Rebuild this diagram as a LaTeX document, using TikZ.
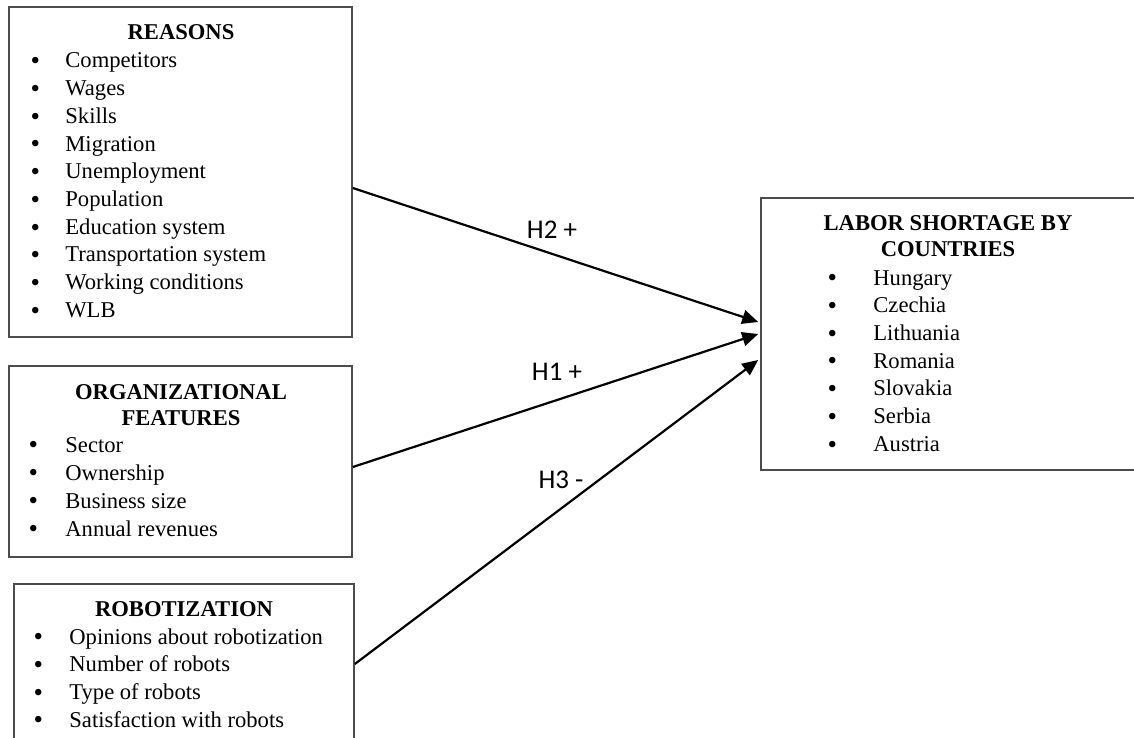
\documentclass[tikz,border=0pt]{standalone}
\usepackage{fontspec}
\setmainfont{Liberation Serif}
\newfontfamily\hypfont{Carlito}
\usetikzlibrary{arrows.meta, calc}

\tikzset{
    box/.style={draw=black!70, line width=0.8pt, inner sep=0pt},
    title/.style={anchor=base, inner sep=0pt, font=\fontsize{11.3}{13.8}\selectfont\bfseries},
    item/.style={anchor=base west, inner sep=0pt, font=\fontsize{11.3}{13.8}\selectfont},
    hyp/.style={inner sep=0pt, font=\hypfont\fontsize{13.5}{16}\selectfont},
    arr/.style={line width=1.1pt, -{Triangle[length=8pt,width=7pt]}}
}

\newcommand{\bul}[2]{\makebox[#1][l]{\hspace{-0.4pt}\smash{\raisebox{-0.9pt}{\fontsize{13.5}{13.5}\selectfont\textbullet}}}#2}

\begin{document}
\begin{tikzpicture}[x=0.5pt, y=-0.5pt]
                \useasboundingbox (0,0) rectangle (1134,738);
                \clip (0,0) rectangle (1134,738);

                % boxes
                \node[box, minimum width=171.5pt, minimum height=165pt] (reasons) at (180.5,172) {};
                \node[box, minimum width=171.5pt, minimum height=95.5pt] (org) at (180.5,461.5) {};
                \node[box, minimum width=170pt, minimum height=88pt] (robot) at (184,672) {};
                \node[box, minimum width=187.5pt, minimum height=136pt] (labor) at (948.5,334) {};

                % reasons
                \node[title] (rsntitle) at (181,40) {REASONS};
                \foreach \t [count=\i from 0] in {Competitors, Wages, Skills, Migration, Unemployment, Population, Education system, Transportation system, Working conditions, WLB}
                    \node[item] (rsn\i) at (31,68+27.7*\i) {\bul{17pt}{\t}};

                % organizational features
                \node[title] (orgtitle1) at (181,399) {ORGANIZATIONAL};
                \node[title] (orgtitle2) at (181,425) {FEATURES};
                \foreach \t [count=\i from 0] in {Sector, Ownership, Business size, Annual revenues}
                    \node[item] (org\i) at (29,452+28*\i) {\bul{18pt}{\t}};

                % robotization
                \node[title] (robtitle) at (184,616) {ROBOTIZATION};
                \foreach \t [count=\i from 0] in {Opinions about robotization, Number of robots, Type of robots, Satisfaction with robots}
                    \node[item] (rob\i) at (34,644+27.7*\i) {\bul{17.5pt}{\t}};

                % labor shortage
                \node[title] (labtitle1) at (948,230) {LABOR SHORTAGE BY};
                \node[title] (labtitle2) at (948,256) {COUNTRIES};
                \foreach \t [count=\i from 0] in {Hungary, Czechia, Lithuania, Romania, Slovakia, Serbia, Austria}
                    \node[item] (lab\i) at (828,285+27.7*\i) {\bul{22.5pt}{\t}};

                % hypotheses
                \draw[arr] ($(reasons.east)+(0,16)$) -- ($(labor.west)+(-2,-12)$);
                \draw[arr] ($(org.east)+(0,5.5)$) -- ($(labor.west)+(-2,0)$);
                \draw[arr] ($(robot.east)+(0,-8)$) -- ($(labor.west)+(-2,26)$);

                \node[hyp] (h2) at (552,230) {H2 +};
                \node[hyp] (h1) at (557,372) {H1 +};
                \node[hyp] (h3) at (561,480) {H3 -};
            \end{tikzpicture}
\end{document}
